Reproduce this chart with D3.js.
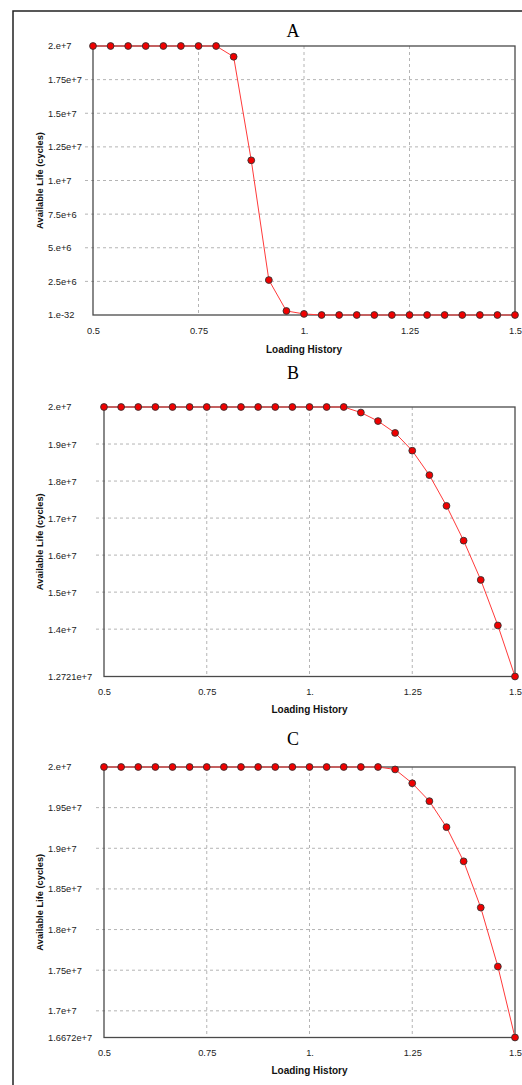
<!DOCTYPE html>
<meta charset="utf-8">
<style>
  body { margin: 0; background: #fff; }
  svg { display: block; }
</style>
<svg width="522" height="1085"></svg>
<script src="https://d3js.org/d3.v7.min.js"></script>
<script>

// loading history steps (same for all three panels)
var loading = [0.5, 0.5417, 0.5833, 0.625, 0.6667, 0.7083, 0.75, 0.7917, 0.8333, 0.875,
  0.9167, 0.9583, 1, 1.0417, 1.0833, 1.125, 1.1667, 1.2083, 1.25, 1.2917,
  1.3333, 1.375, 1.4167, 1.4583, 1.5];

var lifeA = [2e7, 2e7, 2e7, 2e7, 2e7, 2e7, 2e7, 2e7, 1.92e7, 1.15e7,
  2.6e6, 3.0e5, 8e4, 1e-32, 1e-32, 1e-32, 1e-32, 1e-32, 1e-32, 1e-32,
  1e-32, 1e-32, 1e-32, 1e-32, 1e-32];
var lifeB = [2e7, 2e7, 2e7, 2e7, 2e7, 2e7, 2e7, 2e7, 2e7, 2e7,
  2e7, 2e7, 2e7, 2e7, 2e7, 1.985e7, 1.962e7, 1.930e7, 1.882e7, 1.816e7,
  1.733e7, 1.639e7, 1.533e7, 1.410e7, 1.2721e7];
var lifeC = [2e7, 2e7, 2e7, 2e7, 2e7, 2e7, 2e7, 2e7, 2e7, 2e7,
  2e7, 2e7, 2e7, 2e7, 2e7, 2e7, 2e7, 1.997e7, 1.980e7, 1.958e7,
  1.926e7, 1.884e7, 1.827e7, 1.7545e7, 1.6672e7];

var xTicks = [0.5, 0.75, 1, 1.25, 1.5];
var xTickLabels = ["0.5", "0.75", "1.", "1.25", "1.5"];

var yTicksA = [1e-32, 2.5e6, 5e6, 7.5e6, 1e7, 1.25e7, 1.5e7, 1.75e7, 2e7];
var yLabelsA = ["1.e-32", "2.5e+6", "5.e+6", "7.5e+6", "1.e+7", "1.25e+7", "1.5e+7", "1.75e+7", "2.e+7"];
var yTicksB = [1.2721e7, 1.4e7, 1.5e7, 1.6e7, 1.7e7, 1.8e7, 1.9e7, 2e7];
var yLabelsB = ["1.2721e+7", "1.4e+7", "1.5e+7", "1.6e+7", "1.7e+7", "1.8e+7", "1.9e+7", "2.e+7"];
var yTicksC = [1.6672e7, 1.7e7, 1.75e7, 1.8e7, 1.85e7, 1.9e7, 1.95e7, 2e7];
var yLabelsC = ["1.6672e+7", "1.7e+7", "1.75e+7", "1.8e+7", "1.85e+7", "1.9e+7", "1.95e+7", "2.e+7"];

var svg = d3.select("svg");

// outer figure frame (only top and left edges show)
svg.append("rect")
    .attr("x", 13).attr("y", 11)
    .attr("width", 530).attr("height", 1100)
    .attr("fill", "none")
    .attr("stroke", "#222")
    .attr("stroke-width", 1.5);

var panels = [
  {title: "A", values: lifeA, ticks: yTicksA, labels: yLabelsA,
    left: 93, right: 515, top: 46, bottom: 315, titleY: 37, xlabOff: 19, xtitleOff: 38},
  {title: "B", values: lifeB, ticks: yTicksB, labels: yLabelsB,
    left: 104, right: 515, top: 407, bottom: 676.5, titleY: 379, xlabOff: 18, xtitleOff: 36.5},
  {title: "C", values: lifeC, ticks: yTicksC, labels: yLabelsC,
    left: 104, right: 515, top: 767, bottom: 1037.5, titleY: 745, xlabOff: 18, xtitleOff: 36.5}
];

panels.forEach(drawPanel);

function drawPanel(p) {
  var x = d3.scaleLinear().domain([0.5, 1.5]).range([p.left, p.right]);
  var y = d3.scaleLinear().domain([p.ticks[0], 2e7]).range([p.bottom, p.top]);
  var g = svg.append("g");

  // dashed grid
  g.selectAll(".hgrid")
      .data(p.ticks.slice(1, -1))
    .enter().append("line")
      .attr("x1", p.left - 8).attr("x2", p.right)
      .attr("y1", function(d) { return y(d); })
      .attr("y2", function(d) { return y(d); })
      .attr("stroke", "#b4b4b4")
      .attr("stroke-dasharray", "3,3");
  g.selectAll(".vgrid")
      .data(xTicks.slice(1, -1))
    .enter().append("line")
      .attr("x1", function(d) { return x(d); })
      .attr("x2", function(d) { return x(d); })
      .attr("y1", p.top).attr("y2", p.bottom)
      .attr("stroke", "#b4b4b4")
      .attr("stroke-dasharray", "3,3");

  // plot frame
  g.append("rect")
      .attr("x", p.left).attr("y", p.top)
      .attr("width", p.right - p.left).attr("height", p.bottom - p.top)
      .attr("fill", "none")
      .attr("stroke", "#4a4a4a")
      .attr("stroke-width", 1.3);

  // y axis, labels left aligned at x=48
  var ya = g.append("g")
      .attr("transform", "translate(" + p.left + ",0)")
      .call(d3.axisLeft(y).tickValues(p.ticks).tickSize(0)
        .tickFormat(function(d, i) { return p.labels[i]; }));
  ya.select(".domain").remove();
  ya.selectAll("text")
      .attr("x", 48 - p.left)
      .attr("text-anchor", "start")
      .attr("fill", "#222")
      .style("font", "9.3px 'Liberation Sans', Arial, sans-serif");

  // x axis
  var xa = g.append("g")
      .attr("transform", "translate(0," + p.bottom + ")")
      .call(d3.axisBottom(x).tickValues(xTicks).tickSize(0)
        .tickFormat(function(d, i) { return xTickLabels[i]; }));
  xa.select(".domain").remove();
  xa.selectAll("text")
      .attr("y", p.xlabOff).attr("dy", 0)
      .attr("fill", "#222")
      .style("font", "9.3px 'Liberation Sans', Arial, sans-serif");

  // axis titles
  g.append("text")
      .attr("x", (p.left + p.right) / 2)
      .attr("y", p.bottom + p.xtitleOff)
      .attr("text-anchor", "middle")
      .attr("fill", "#111")
      .style("font", "bold 10px 'Liberation Sans', Arial, sans-serif")
      .text("Loading History");
  g.append("text")
      .attr("transform", "translate(43," + (p.top + p.bottom) / 2 + ") rotate(-90)")
      .attr("text-anchor", "middle")
      .attr("fill", "#111")
      .style("font", "bold 9.3px 'Liberation Sans', Arial, sans-serif")
      .text("Available Life (cycles)");

  // panel letter
  g.append("text")
      .attr("x", 293).attr("y", p.titleY)
      .attr("text-anchor", "middle")
      .attr("fill", "#000")
      .style("font", "18px 'Liberation Serif', 'Times New Roman', serif")
      .text(p.title);

  // series
  var line = d3.line()
      .x(function(d, i) { return x(loading[i]); })
      .y(function(d) { return y(d); });
  g.append("path")
      .datum(p.values)
      .attr("d", line)
      .attr("fill", "none")
      .attr("stroke", "#ff3a3a")
      .attr("stroke-width", 1);
  g.selectAll(".pt")
      .data(p.values)
    .enter().append("circle")
      .attr("cx", function(d, i) { return x(loading[i]); })
      .attr("cy", function(d) { return y(d); })
      .attr("r", 3.4)
      .attr("fill", "#f00000")
      .attr("stroke", "#333")
      .attr("stroke-width", 0.9);
}

</script>
